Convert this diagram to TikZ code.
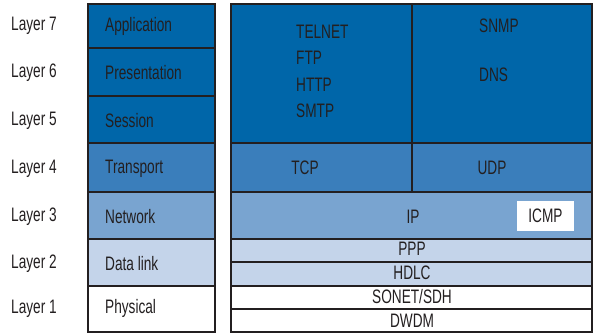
\documentclass[tikz,border=0pt]{standalone}
\usepackage{fontspec}
\setmainfont{Liberation Sans}[FakeStretch=0.7]
\usepackage{tikz}
\usetikzlibrary{calc}
\definecolor{inkgray}{HTML}{231F20}
\definecolor{appblue}{HTML}{0066A9}
\definecolor{tranblue}{HTML}{3A7EBB}
\definecolor{netblue}{HTML}{79A4D0}
\definecolor{linkblue}{HTML}{C4D4EA}
\newcommand{\cell}[5]{ \draw[cellline, fill=#5] ( #1 , #2 ) rectangle ( #3 , #4 );}

\begin{document}
\begin{tikzpicture}[x=1pt, y=-1pt,
        cellline/.style={draw=inkgray, line width=2pt},
        frameline/.style={draw=inkgray, line width=2.8pt},
        lbl/.style={text=inkgray, inner sep=0pt, font=\fontsize{19.5}{21}\selectfont}]
        \useasboundingbox (0,0) rectangle (594,333);

        % left column
        \cell{88}{4}{215}{48}{appblue}
        \cell{88}{48}{215}{96}{appblue}
        \cell{88}{96}{215}{143}{appblue}
        \cell{88}{143}{215}{192}{tranblue}
        \cell{88}{192}{215}{239}{netblue}
        \cell{88}{239}{215}{286}{linkblue}
        \cell{88}{286}{215}{332}{white}
        \draw[frameline] (88,4) rectangle (215,332);

        % right column
        \cell{231}{4}{412}{143}{appblue}
        \cell{412}{4}{592}{143}{appblue}
        \cell{231}{143}{412}{192}{tranblue}
        \cell{412}{143}{592}{192}{tranblue}
        \cell{231}{192}{592}{239}{netblue}
        \cell{231}{239}{592}{262}{linkblue}
        \cell{231}{262}{592}{286}{linkblue}
        \cell{231}{286}{592}{309}{white}
        \cell{231}{309}{592}{332}{white}
        \draw[frameline] (231,4) rectangle (592,332);
        \fill[white] (517,201) rectangle (574,231);

        % layer names
        \node[lbl] (l7) at (34,26) {Layer 7};
        \node[lbl] (l6) at (34,73) {Layer 6};
        \node[lbl] (l5) at (34,121) {Layer 5};
        \node[lbl] (l4) at (34,169) {Layer 4};
        \node[lbl] (l3) at (34,217) {Layer 3};
        \node[lbl] (l2) at (34,264) {Layer 2};
        \node[lbl] (l1) at (34,309) {Layer 1};

        % osi layers
        \node[lbl, anchor=west] (app) at (105,26) {Application};
        \node[lbl, anchor=west] (pres) at (105,73) {Presentation};
        \node[lbl, anchor=west] (sess) at (105,121) {Session};
        \node[lbl, anchor=west] (trans) at (105,169) {Transport};
        \node[lbl, anchor=west] (net) at (105,217) {Network};
        \node[lbl, anchor=west] (link) at (105,264) {Data link};
        \node[lbl, anchor=west] (phys) at (105,308) {Physical};

        % protocols
        \node[lbl, anchor=west] (telnet) at (296,32) {TELNET};
        \node[lbl, anchor=west] (ftp) at (296,58) {FTP};
        \node[lbl, anchor=west] (http) at (296,85) {HTTP};
        \node[lbl, anchor=west] (smtp) at (296,111) {SMTP};
        \node[lbl, anchor=west] (snmp) at (479,26) {SNMP};
        \node[lbl, anchor=west] (dns) at (479,75) {DNS};
        \node[lbl] (tcp) at (305,168) {TCP};
        \node[lbl] (udp) at (492,168) {UDP};
        \node[lbl] (ip) at (413,217) {IP};
        \node[lbl] (icmp) at (545.5,216) {ICMP};
        \node[lbl] (ppp) at (412,249) {PPP};
        \node[lbl] (hdlc) at (412,273) {HDLC};
        \node[lbl] (sonet) at (412,297) {SONET/SDH};
        \node[lbl] (dwdm) at (412,321) {DWDM};
    \end{tikzpicture}
\end{document}
